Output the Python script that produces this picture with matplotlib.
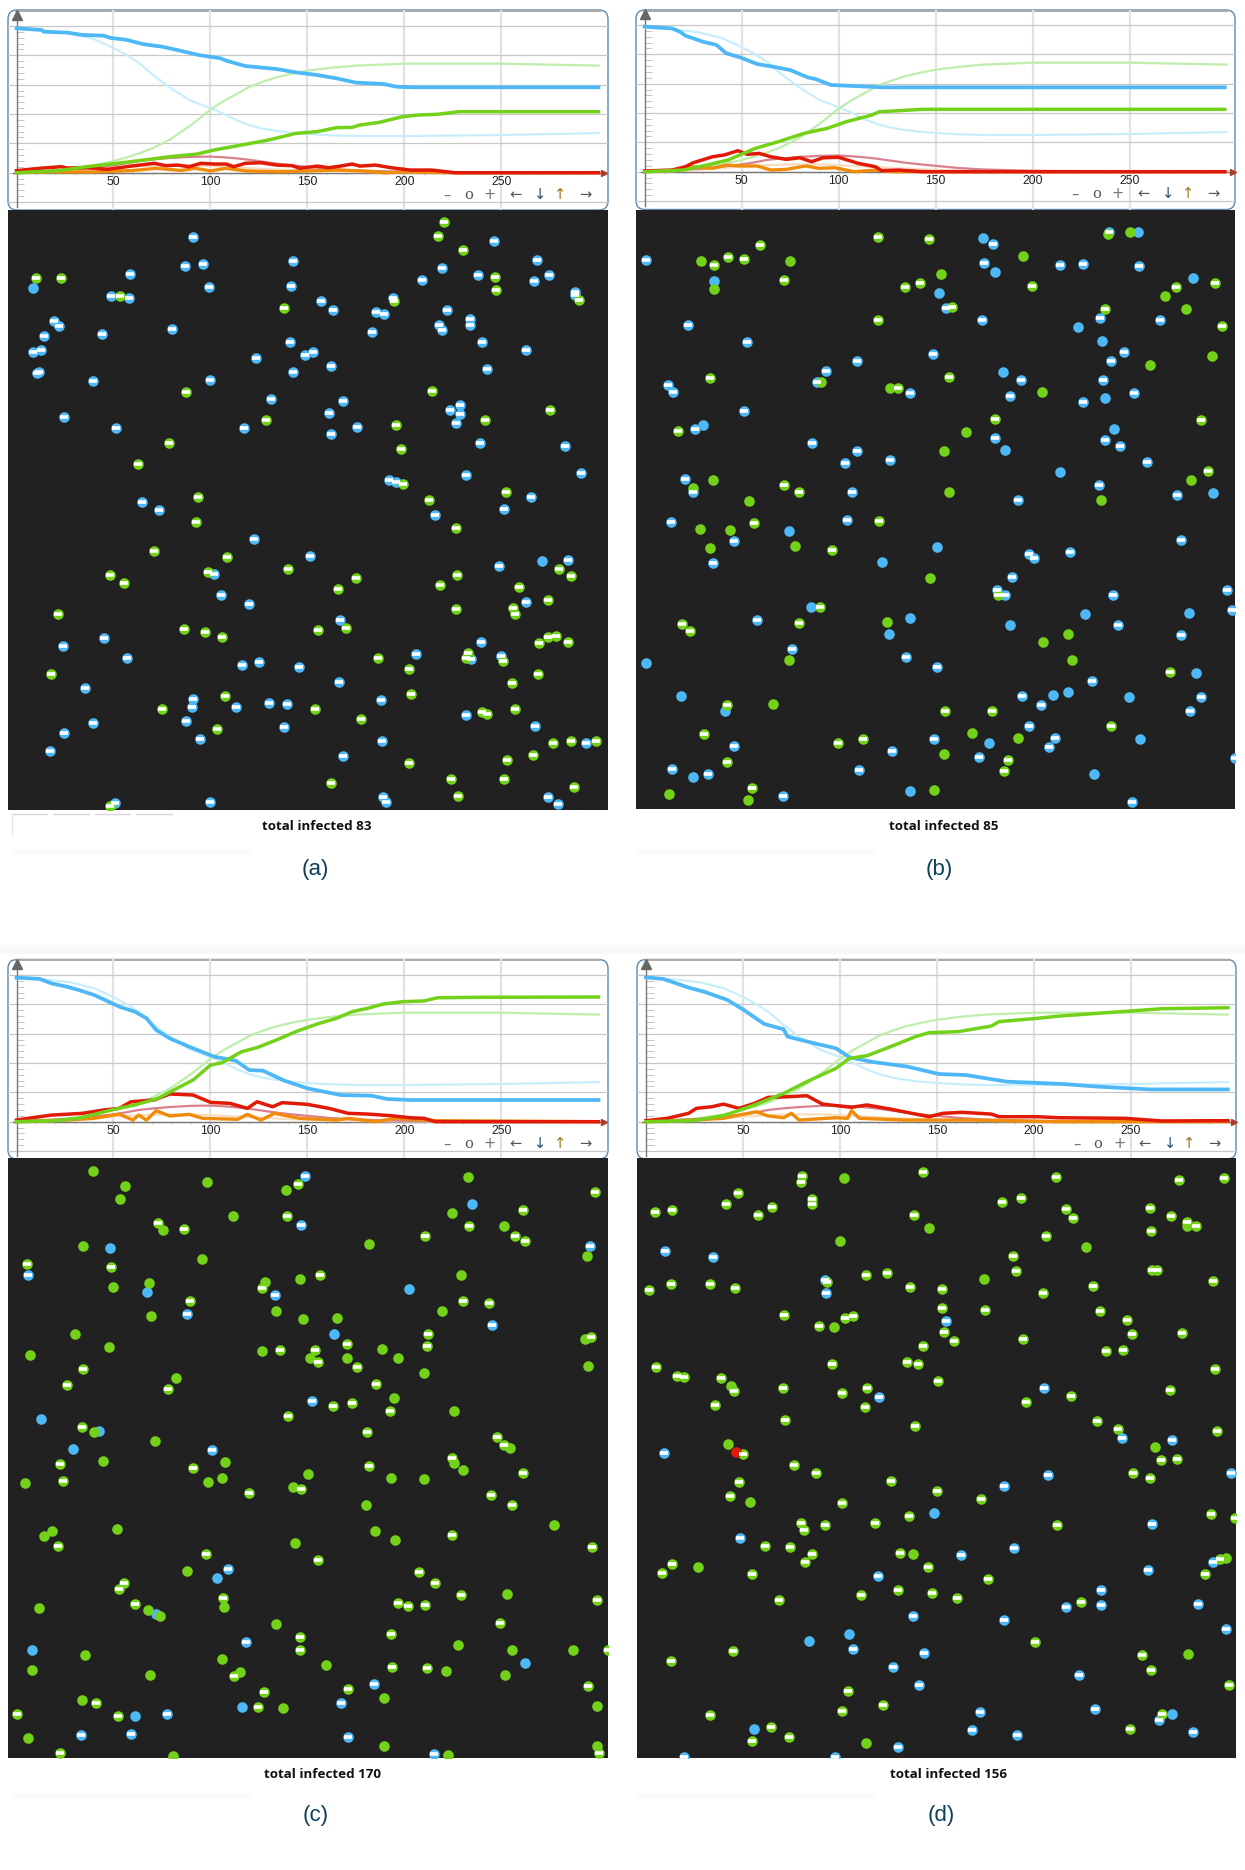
import matplotlib
matplotlib.use('Agg')
import matplotlib.pyplot as plt
from matplotlib.patches import FancyBboxPatch, Rectangle

W, H = 1245, 1870
BLUE, GREEN, RED, ORANGE = '#4db8f5', '#74d11a', '#e01a06', '#f08c0a'
plt.rcParams['font.family'] = ['Liberation Sans', 'DejaVu Sans']

# model curves, shared by all four charts
model_t = [0, 15, 28, 40, 50, 57, 63, 70, 79, 90, 100, 107, 114, 120, 127, 134, 142, 150, 162, 175, 200, 250, 300]
model_s = [.98, .97, .95, .91, .85, .80, .75, .67, .58, .49, .44, .40, .355, .325, .30, .285, .272, .264, .255, .25, .25, .257, .27]
model_r = [0, .005, .025, .05, .08, .105, .13, .166, .225, .325, .43, .49, .54, .585, .62, .65, .675, .695, .715, .73, .743, .743, .73]
model_i = [.01, .012, .02, .035, .05, .065, .08, .09, .1, .108, .11, .105, .097, .088, .075, .062, .05, .04, .025, .015, .006, .002, 0]
model_e = [0, .004, .012, .025, .035, .04, .045, .048, .05, .05, .045, .04, .035, .03, .026, .022, .017, .012, .008, .005, .002, 0, 0]

# chart (a)
a_blue_t = [0, 13, 14, 26, 34, 45, 48, 57, 65, 75, 83, 94, 105, 108, 118, 134, 144, 155, 165, 175, 189, 196, 205, 300]
a_blue_y = [.984, .973, .961, .955, .939, .934, .92, .905, .877, .859, .836, .802, .78, .764, .727, .707, .684, .666, .643, .614, .605, .586, .582, .582]
a_green_t = [0, 22, 36, 52, 63, 79, 93, 102, 114, 130, 144, 155, 165, 173, 177, 187, 199, 207, 217, 228, 300]
a_green_y = [0, .014, .041, .064, .082, .109, .127, .155, .184, .223, .268, .28, .307, .309, .325, .343, .382, .393, .398, .416, .416]
a_red_t = [0, 12, 23, 26, 36, 47, 59, 71, 77, 83, 89, 95, 102, 108, 112, 118, 126, 134, 142, 146, 155, 161, 167, 173, 177, 185, 193, 203, 214, 226, 300]
a_red_y = [.014, .03, .041, .032, .034, .023, .045, .064, .048, .052, .041, .064, .059, .059, .041, .064, .068, .052, .048, .03, .045, .034, .045, .059, .045, .052, .034, .018, .018, 0, 0]
a_orange_t = [0, 15, 40, 60, 72, 85, 92, 100, 108, 118, 135, 150, 165, 178, 190, 200, 225, 300]
a_orange_y = [0, .005, .005, .015, .03, .015, .03, .012, .03, .012, .006, .012, .018, .012, 0, .006, 0, 0]

# chart (b)
b_blue_t = [0, 14, 18, 21, 30, 37, 42, 49, 58, 66, 75, 84, 88, 96, 108, 123, 299]
b_blue_y = [.989, .977, .955, .927, .886, .864, .807, .78, .734, .716, .693, .643, .632, .591, .584, .575, .575]
b_green_t = [0, 20, 32, 43, 57, 69, 82, 94, 104, 117, 121, 131, 143, 299]
b_green_y = [0, .011, .045, .08, .159, .205, .261, .295, .341, .386, .409, .416, .425, .425]
b_red_t = [0, 14, 21, 25, 35, 41, 48, 53, 59, 65, 73, 80, 86, 92, 100, 110, 119, 122, 131, 143, 299]
b_red_y = [.005, .011, .034, .061, .102, .114, .143, .118, .125, .102, .084, .095, .068, .095, .098, .057, .034, .007, .011, 0, 0]
b_orange_t = [0, 14, 24, 35, 42, 49, 58, 65, 73, 83, 90, 98, 108, 119, 127, 141, 299]
b_orange_y = [0, .007, .034, .023, .045, .039, .039, .011, .016, .039, .023, .027, 0, .011, 0, 0, 0]

# chart (c)
c_blue_t = [0, 12, 18, 26, 32, 40, 53, 61, 67, 72, 79, 89, 102, 113, 120, 127, 138, 150, 167, 183, 191, 203, 300]
c_blue_y = [.982, .973, .943, .92, .898, .864, .784, .75, .705, .625, .568, .511, .443, .416, .352, .348, .28, .227, .182, .177, .155, .148, .148]
c_green_t = [0, 20, 32, 49, 61, 73, 81, 91, 100, 106, 116, 124, 134, 144, 155, 165, 173, 181, 189, 199, 210, 217, 239, 300]
c_green_y = [0, .007, .023, .08, .114, .159, .216, .284, .386, .402, .477, .505, .557, .614, .666, .705, .75, .773, .802, .818, .823, .845, .848, .85]
c_red_t = [0, 8, 18, 34, 45, 53, 59, 71, 79, 91, 100, 110, 119, 124, 132, 137, 150, 161, 171, 181, 193, 203, 210, 216, 300]
c_red_y = [.011, .027, .045, .057, .08, .091, .136, .148, .189, .182, .132, .125, .091, .136, .102, .13, .118, .091, .057, .052, .041, .027, .023, 0, 0]
c_orange_t = [0, 26, 40, 53, 60, 63, 67, 72, 79, 89, 96, 114, 119, 126, 133, 146, 165, 171, 185, 195, 216, 300]
c_orange_y = [0, .011, .023, .052, .011, .045, .011, .075, .039, .05, .023, .016, .05, .011, .057, .023, .011, .023, 0, .023, .007, 0]

# chart (d)
d_blue_t = [0, 9, 22, 30, 42, 50, 61, 71, 73, 87, 98, 105, 116, 135, 151, 165, 186, 215, 233, 260, 300]
d_blue_y = [.984, .973, .914, .886, .83, .766, .666, .63, .58, .534, .5, .439, .409, .375, .325, .318, .273, .257, .239, .22, .22]
d_green_t = [0, 24, 40, 56, 71, 83, 98, 105, 114, 126, 139, 146, 161, 178, 182, 202, 213, 233, 245, 266, 300]
d_green_y = [0, .007, .041, .114, .193, .273, .364, .432, .45, .511, .58, .607, .614, .652, .682, .705, .72, .739, .75, .77, .777]
d_red_t = [0, 11, 22, 26, 34, 40, 48, 56, 63, 73, 83, 91, 106, 114, 126, 139, 146, 153, 163, 178, 182, 202, 213, 247, 266, 300]
d_red_y = [.007, .023, .057, .091, .102, .12, .091, .125, .166, .17, .177, .12, .098, .114, .086, .052, .034, .057, .064, .052, .034, .034, .027, .023, .005, .007]
d_orange_t = [0, 24, 40, 48, 57, 63, 71, 75, 79, 98, 104, 106, 110, 134, 167, 213, 300]
d_orange_y = [0, .011, .023, .045, .068, .039, .027, .057, .011, .027, .023, .075, .023, .011, .011, 0, 0]

# agents, x/y on a 0-1568 grid over each black square
a_blue_striped = [(484,71),(1269,82),(746,132),(1383,131),(463,146),(510,140),(318,168),(1133,151),(1227,170),(1413,171),(1081,183),(1374,185),(524,200),(740,198),(268,225),(315,231),(1481,215),(1481,222),(817,237),(1007,230),(850,261),(962,266),(982,273),(1146,262),(1207,284),(1207,300),(120,290),(133,303),(94,328),(246,325),(428,311),(950,320),(1126,300),(1134,314),(738,344),(1239,344),(65,370),(87,366),(648,387),(775,380),(797,371),(1355,367),(843,407),(745,423),(1251,416),(76,427),(82,424),(223,446),(528,445),(687,494),(876,498),(1181,510),(1155,523),(1181,533),(839,530),(146,541),(281,569),(618,570),(911,567),(1172,556),(844,585),(1233,609),(1456,618),(1497,688),(1198,692),(996,706),(1015,710),(1366,749),(351,763),(395,785),(1297,782),(1117,796),(642,861),(790,903),(1464,914),(1282,931),(538,952),(556,1005),(631,1030),(1355,1025),(867,1071),(250,1119),(144,1140),(1236,1128),(310,1170),(1067,1161),(1289,1166),(1210,1173),(612,1189),(655,1182),(760,1193),(865,1233),(202,1248),(484,1278),(482,1300),(596,1300),(682,1288),(729,1290),(975,1281),(1197,1321),(465,1336),(223,1341),(720,1350),(1377,1349),(146,1367),(501,1382),(978,1388),(1510,1394),(109,1413),(876,1428),(280,1550),(529,1546),(979,1534),(987,1546),(1411,1534),(1438,1552)]
a_green_striped = [(1140,32),(1124,69),(1189,105),(74,178),(139,177),(1273,174),(1276,208),(293,226),(1493,234),(1009,239),(722,255),(465,475),(1109,474),(1417,522),(674,549),(1246,548),(1015,563),(421,609),(1026,624),(339,663),(1031,716),(1302,738),(497,749),(1100,757),(491,815),(1170,832),(381,890),(573,908),(1439,939),(267,955),(523,946),(731,938),(1173,955),(1470,957),(909,962),(303,976),(1130,980),(863,991),(1336,984),(1412,1020),(1319,1040),(1325,1056),(130,1055),(1170,1044),(460,1096),(516,1102),(559,1115),(810,1097),(882,1093),(1412,1115),(1432,1112),(1387,1132),(1464,1129),(1202,1157),(1198,1170),(966,1172),(1293,1179),(1048,1200),(112,1212),(1384,1213),(1317,1237),(1053,1266),(567,1269),(402,1303),(803,1305),(1326,1303),(1239,1312),(1251,1318),(923,1329),(545,1356),(1425,1394),(1471,1387),(1537,1388),(1371,1423),(1303,1437),(1048,1445),(845,1497),(1157,1488),(1295,1486),(1478,1507),(1176,1532),(266,1558)]
a_blue_solid = [(66,205),(1395,918)]

b_blue_striped = [(29,131),(937,88),(913,139),(1112,145),(1172,141),(1317,147),(812,256),(138,301),(907,288),(1215,284),(1372,287),(294,346),(780,376),(1279,372),(1243,395),(581,396),(500,421),(1010,444),(1224,445),(475,449),(87,459),(99,476),(718,479),(979,486),(1303,478),(1170,503),(285,525),(158,573),(942,597),(1228,603),(1268,619),(464,611),(580,631),(666,655),(550,662),(1337,659),(131,704),(151,738),(568,738),(1212,721),(1417,746),(1001,758),(94,817),(555,811),(259,866),(1428,864),(203,924),(1138,894),(1030,900),(1042,911),(985,960),(947,995),(968,1008),(1248,1007),(1546,996),(1560,1048),(318,1073),(1262,1087),(1427,1113),(411,1149),(708,1170),(789,1197),(1194,1233),(1011,1273),(1480,1275),(1062,1297),(1451,1311),(1031,1352),(781,1385),(1097,1381),(260,1402),(1081,1405),(672,1415),(898,1433),(1568,1435),(96,1463),(191,1476),(585,1467),(386,1533),(1298,1549),(1238,57)]
b_green_striped = [(326,91),(636,70),(769,75),(206,145),(244,124),(284,127),(390,184),(705,202),(746,191),(1037,199),(1415,202),(1516,191),(828,255),(1228,258),(634,289),(1534,303),(196,441),(822,438),(688,466),(940,548),(1480,551),(113,578),(1497,684),(389,719),(430,737),(311,820),(637,815),(514,889),(485,1038),(123,1083),(143,1103),(430,1080),(950,1007),(1398,1210),(241,1295),(810,1311),(934,1311),(180,1372),(1245,1352),(596,1384),(530,1395),(974,1439),(240,1446),(965,1469),(306,1514)]
b_blue_solid = [(910,73),(1314,58),(942,162),(207,185),(1457,179),(795,218),(1157,307),(1221,343),(961,425),(1228,492),(179,563),(1251,573),(966,628),(1110,685),(1510,740),(403,840),(790,881),(645,921),(460,1038),(720,1069),(1176,1058),(1449,1056),(664,1109),(980,1086),(30,1186),(1465,1211),(121,1271),(1131,1262),(1093,1269),(1290,1274),(236,1312),(1320,1386),(925,1396),(152,1485),(1199,1476),(720,1522)]
b_green_solid = [(174,133),(405,134),(1013,120),(799,167),(208,207),(1236,64),(1293,57),(1385,224),(1439,258),(1509,381),(1346,406),(486,450),(667,465),(1065,477),(866,582),(808,630),(205,708),(152,728),(822,737),(1453,708),(299,761),(1218,759),(169,834),(248,837),(197,885),(418,879),(772,964),(658,1079),(1132,1111),(1066,1131),(402,1179),(1141,1179),(361,1292),(880,1368),(1000,1382),(808,1424),(781,1517),(90,1530),(295,1545)]

c_green_solid = [(223,35),(306,72),(293,106),(520,62),(726,84),(1201,49),(1160,143),(588,151),(404,189),(1296,179),(197,231),(944,226),(508,264),(1514,257),(369,326),(274,337),(672,325),(762,316),(1184,305),(373,412),(700,399),(771,422),(859,418),(1135,399),(175,459),(263,495),(57,515),(663,504),(1509,472),(790,523),(886,522),(978,498),(1020,522),(1516,544),(1088,562),(439,574),(1008,626),(1166,661),(224,715),(383,739),(1312,757),(247,792),(568,795),(1166,796),(1188,815),(44,849),(522,846),(559,835),(784,827),(746,859),(1000,835),(1086,839),(935,907),(1428,960),(114,976),(94,989),(284,970),(960,976),(1012,997),(749,1005),(468,1080),(1304,1139),(80,1177),(366,1180),(396,1196),(565,1173),(700,1217),(1175,1272),(201,1300),(558,1308),(1316,1286),(1476,1286),(64,1339),(830,1324),(606,1343),(372,1352),(1145,1341),(1299,1352),(983,1412),(193,1417),(718,1438),(1540,1433),(53,1517),(983,1536),(1539,1536),(431,1562),(1150,1561)]
c_green_striped = [(757,68),(1535,88),(1346,137),(730,152),(391,171),(461,185),(1205,178),(1090,203),(1324,203),(1350,216),(50,278),(269,285),(815,305),(665,339),(476,373),(1189,374),(1257,380),(1098,459),(1523,467),(885,485),(1094,492),(710,502),(801,501),(811,534),(911,545),(196,552),(155,592),(961,591),(419,603),(849,648),(899,641),(997,660),(732,675),(194,704),(939,716),(1277,730),(1295,751),(1161,783),(136,800),(484,811),(943,806),(1347,824),(144,845),(767,865),(629,875),(1263,880),(1317,906),(131,1014),(1161,986),(1526,1016),(517,1035),(811,1050),(1073,1082),(1116,1111),(302,1111),(291,1127),(1184,1142),(561,1150),(331,1166),(1020,1164),(1045,1172),(1091,1169),(1539,1155),(1286,1214),(1002,1245),(764,1251),(764,1287),(1568,1286),(1003,1331),(1096,1334),(591,1354),(670,1396),(888,1388),(1516,1381),(229,1423),(23,1452),(288,1457),(653,1435),(135,1556),(1545,1556)]
c_blue_striped = [(777,48),(767,175),(1521,231),(53,307),(697,358),(468,407),(1264,437),(794,636),(532,764),(574,1075),(623,1264),(957,1374),(870,1423),(416,1454),(192,1509),(321,1506),(888,1514),(1114,1558)]
c_blue_solid = [(1212,119),(267,234),(1047,342),(363,350),(852,459),(86,681),(237,713),(169,761),(546,1097),(388,1192),(62,1286),(1350,1320),(611,1434),(332,1457)]

d_green_striped = [(436,48),(433,64),(752,37),(1098,49),(1418,57),(1536,51),(269,91),(238,121),(462,106),(462,121),(958,116),(1008,105),(53,142),(97,135),(321,150),(357,128),(729,148),(1125,134),(1142,156),(1343,131),(1399,151),(1439,167),(1464,179),(1346,191),(1072,205),(985,256),(994,294),(1350,292),(1362,293),(602,306),(658,300),(500,325),(1508,321),(37,345),(95,328),(196,330),(262,339),(717,337),(801,343),(1194,334),(1064,353),(800,392),(912,396),(388,411),(547,417),(569,414),(481,440),(1214,400),(1283,424),(805,454),(1297,461),(1426,458),(833,477),(1013,472),(752,491),(1228,504),(1273,501),(55,545),(514,538),(709,532),(739,538),(109,569),(127,572),(225,575),(1514,552),(790,582),(258,609),(387,600),(605,601),(540,614),(1395,606),(1137,623),(1020,638),(208,645),(600,652),(390,684),(731,701),(1206,686),(1259,709),(1519,713),(281,774),(1371,789),(1413,787),(415,801),(473,824),(1299,822),(1343,836),(272,848),(668,844),(788,869),(247,884),(903,890),(540,901),(715,936),(1502,931),(1566,940),(432,953),(442,972),(496,960),(626,953),(1100,960),(339,1013),(405,1017),(461,1036),(444,1055),(691,1031),(1525,1048),(97,1062),(71,1085),(764,1070),(306,1088),(1487,1086),(922,1100),(685,1128),(589,1141),(776,1138),(840,1149),(375,1155),(1164,1161),(1043,1265),(256,1288),(94,1314),(1323,1300),(1345,1339),(555,1392),(1549,1378),(648,1430),(541,1446),(196,1456),(1375,1453),(355,1488),(1291,1491),(402,1514),(305,1523)]
d_green_solid = [(546,53),(767,182),(535,218),(1176,233),(911,317),(518,442),(251,595),(243,748),(1357,755),(300,899),(726,1034),(164,1070),(1541,1045),(1443,1295),(602,1528),(1439,178)]
d_blue_striped = [(78,243),(203,259),(496,320),(497,353),(811,427),(1068,601),(637,624),(1271,733),(1400,737),(76,770),(1078,828),(1556,822),(963,856),(1349,957),(273,993),(989,1018),(850,1037),(1509,1057),(1338,1077),(633,1092),(1217,1129),(1216,1168),(1125,1174),(1469,1166),(725,1197),(962,1208),(1543,1232),(568,1282),(755,1294),(672,1329),(1159,1352),(741,1378),(900,1449),(1199,1441),(1368,1469),(878,1495),(1456,1501),(997,1509),(685,1538),(127,1565),(522,1566)]
d_blue_solid = [(781,927),(557,1244),(455,1261),(311,1491),(1402,1453)]
d_red_solid = [(264,768)]

x_ticks = [50, 100, 150, 200, 250]
y_grid = [-.2, 0, .2, .4, .6, .8, 1.0]
controls = ['–', 'o', '+', '←', '↓', '↑', '→']
control_t = [222, 233, 244, 257, 270, 280, 293]
control_colors = ['#777777', '#555555', '#777777', '#555555', '#2b4f70', '#9c7a1e', '#555555']

fig = plt.figure(figsize=(W / 100, H / 100), dpi=100)
bg = fig.add_axes([0, 0, 1, 1])
bg.set_xlim(0, W)
bg.set_ylim(H, 0)
bg.axis('off')


def px_axes(left, top, right, bottom):
    return fig.add_axes([left / W, 1 - bottom / H, (right - left) / W, (bottom - top) / H])


def draw_strip(left, top, right, bottom, x0, y0, blue, green, red, orange):
    bg.add_patch(FancyBboxPatch((left + 8, top + 8), right - left - 16, bottom - top - 16,
                                boxstyle='round,pad=8,rounding_size=9', fc='white', ec='#5d87ad', lw=1))
    bg.plot([left + 8, right - 8], [top + .5, top + .5], color='#aaaaaa', lw=1.4, zorder=5)
    ax = px_axes(left, top, right, bottom)
    ax.patch.set_alpha(0)
    ax.set_xlim((left - x0) / 1.94, (right - x0) / 1.94)
    ax.set_ylim((y0 - bottom) / 146.7, (y0 - top) / 146.7)
    for s in ax.spines.values():
        s.set_visible(False)
    ax.set_xticks(x_ticks)
    ax.set_yticks(y_grid)
    ax.tick_params(length=0, labelbottom=False, labelleft=False)
    ax.grid(axis='x', color='#e2e2e2', lw=1.6)
    ax.grid(axis='y', color='#c8c8c8', lw=.9)
    ax.set_axisbelow(True)
    # small ticks on both axes
    ax.vlines(range(10, 300, 10), -.018, 0, color='#d4d4d4', lw=.7)
    ax.hlines([i * .04 for i in range(-5, 26)], 0, 4, color='#c4c4c4', lw=.7)
    ax.plot([0, 0], [-.235, 1.06], color='#777777', lw=1)
    ax.plot([-2, 302], [0, 0], color='#777777', lw=1)
    ax.plot(0, 1.075, marker='^', color='#666666', ms=6.5, clip_on=False)
    ax.plot(303, 0, marker='>', color='#b03a2e', ms=5, clip_on=False)
    ax.plot(model_t, model_s, color='#c9eefb', lw=1.6)
    ax.plot(model_t, model_r, color='#bfedab', lw=1.6)
    ax.plot(model_t, model_e, color='#f8dcc0', lw=1.6)
    ax.plot(model_t, model_i, color='#d9808e', lw=1.6)
    ax.plot(orange[0], orange[1], color=ORANGE, lw=2.4)
    ax.plot(red[0], red[1], color=RED, lw=2.5)
    ax.plot(blue[0], blue[1], color=BLUE, lw=2.7)
    ax.plot(green[0], green[1], color=GREEN, lw=2.5)
    for v in x_ticks:
        ax.text(v, -.066, str(v), ha='center', va='center', fontsize=8.8, color='#222222')
    for c, t, col in zip(controls, control_t, control_colors):
        ax.text(t, -.152, c, ha='center', va='center', fontsize=10.5, color=col,
                family=['DejaVu Serif'] if c == 'o' else ['DejaVu Sans'])


def agents(ax, pts, color, striped):
    if not pts:
        return
    xs, ys = zip(*pts)
    ax.scatter(xs, ys, s=58, color=color, linewidths=0)
    if striped:
        ax.plot(xs, ys, ls='none', marker='_', ms=6, mew=2.6, color='white')


def draw_field(left, top, right, bottom, x_from, layers):
    ax = px_axes(left, top, right, bottom)
    ax.set_xlim(x_from, 1568)
    ax.set_ylim(1568, 0)
    ax.axis('off')
    ax.add_patch(Rectangle((0, 0), 1, 1, transform=ax.transAxes, fc='#212121', ec='none', zorder=0))
    for pts, color, striped in layers:
        agents(ax, pts, color, striped)


draw_strip(8, 10, 608, 210, 16.5, 172.7, (a_blue_t, a_blue_y), (a_green_t, a_green_y), (a_red_t, a_red_y), (a_orange_t, a_orange_y))
draw_strip(636, 10, 1235, 209.5, 644.7, 171.7, (b_blue_t, b_blue_y), (b_green_t, b_green_y), (b_red_t, b_red_y), (b_orange_t, b_orange_y))
draw_strip(8, 959.5, 608, 1159, 16.5, 1121.7, (c_blue_t, c_blue_y), (c_green_t, c_green_y), (c_red_t, c_red_y), (c_orange_t, c_orange_y))
draw_strip(637, 959.5, 1236, 1159, 645.9, 1121.7, (d_blue_t, d_blue_y), (d_green_t, d_green_y), (d_red_t, d_red_y), (d_orange_t, d_orange_y))

draw_field(8, 210, 608, 810, 0, [(a_blue_solid, BLUE, False), (a_blue_striped, BLUE, True), (a_green_striped, GREEN, True)])
draw_field(636, 210, 1235, 809, 3, [(b_blue_solid, BLUE, False), (b_blue_striped, BLUE, True), (b_green_solid, GREEN, False), (b_green_striped, GREEN, True)])
draw_field(8, 1158, 608, 1758, 0, [(c_blue_solid, BLUE, False), (c_blue_striped, BLUE, True), (c_green_striped, GREEN, True), (c_green_solid, GREEN, False)])
draw_field(637, 1158, 1236, 1758, 5, [(d_blue_solid, BLUE, False), (d_blue_striped, BLUE, True), (d_green_solid, GREEN, False), (d_green_striped, GREEN, True), (d_red_solid, RED, False)])

# captions under the squares
totals = ['total infected 83', 'total infected 85', 'total infected 170', 'total infected 156']
total_pos = [(317, 826), (943.5, 826), (322, 1774.5), (949, 1774.5)]
letters = ['(a)', '(b)', '(c)', '(d)']
letter_pos = [(315.5, 869), (939, 869), (315.5, 1816), (941, 1816)]
for s, (x, y) in zip(totals, total_pos):
    bg.text(x, y, s, ha='center', va='center', fontsize=9.6, fontweight='bold', family=['Open Sans'], color='#111111')
for s, (x, y) in zip(letters, letter_pos):
    bg.text(x, y, s, ha='center', va='center', fontsize=16, color='#0f3f5a')

# faint leftovers of the screenshots
bg.add_patch(Rectangle((0, 945), W, 9, fc='#f8f8f8', ec='none'))
for x0_, x1_ in [(12, 47), (53, 89), (95, 130), (136, 172)]:
    bg.plot([x0_, x1_], [814, 814], color='#d8d8d8', lw=1)
bg.plot([12, 12], [814, 834], color='#e4e4e4', lw=1)
for x0_, y0_ in [(13, 850), (637, 850), (13, 1793), (637, 1793)]:
    bg.add_patch(Rectangle((x0_, y0_), 239, 5, fc='#fafafa', ec='none'))

fig.savefig('out.png', dpi=100)
